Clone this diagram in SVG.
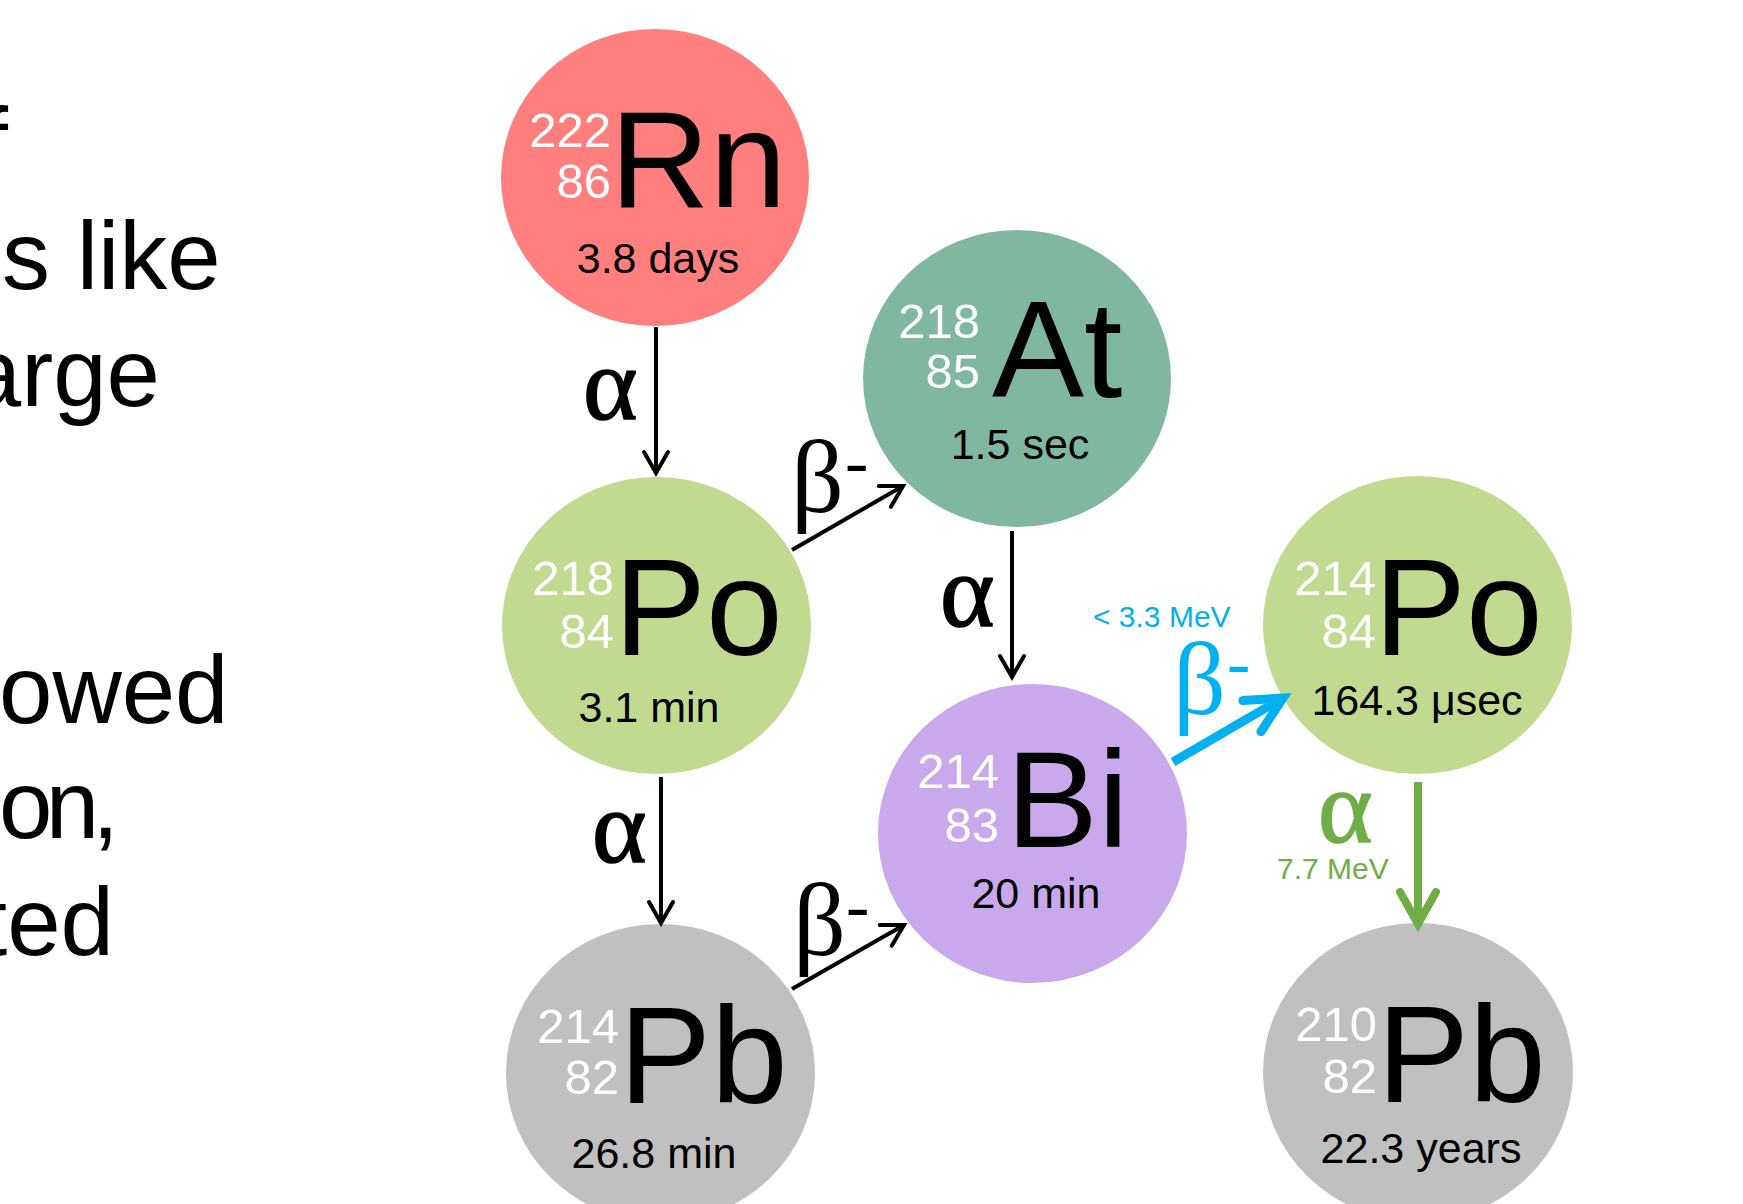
<svg xmlns="http://www.w3.org/2000/svg" width="1743" height="1204" viewBox="0 0 1743 1204">
<style>
.body{font-family:"Liberation Sans",Arial,sans-serif;font-size:96px;fill:#000}
.num{font-family:"Liberation Sans",Arial,sans-serif;font-size:49px;fill:#fff;text-anchor:end}
.sym{font-family:"Liberation Sans",Arial,sans-serif;font-size:138px;fill:#000}
.hl{font-family:"Liberation Sans",Arial,sans-serif;font-size:43px;fill:#000;text-anchor:middle}
.greek{font-family:"Liberation Serif","Times New Roman",serif;font-size:104px}
.alpha{stroke-width:1.6}
.mev{font-family:"Liberation Sans",Arial,sans-serif;font-size:30px}
.blk{stroke:#000;stroke-width:4;fill:none}
.blue{stroke:#00B0F0;stroke-width:9;fill:none}
.grn{stroke:#70AD47;stroke-width:8;fill:none}
</style>
<defs>
<marker id="ahB" markerUnits="userSpaceOnUse" orient="auto" markerWidth="60" markerHeight="60" viewBox="-40 -30 60 60" refX="0" refY="0" overflow="visible">
<path d="M-21,-12 L0,0 L-21,12" fill="none" stroke="#000" stroke-width="4" stroke-linecap="round" stroke-linejoin="miter"/>
</marker>
<marker id="ahBlue" markerUnits="userSpaceOnUse" orient="auto" markerWidth="80" markerHeight="80" viewBox="-60 -40 80 80" refX="0" refY="0" overflow="visible">
<path d="M-36,-18 L0,0 L-36,18" fill="none" stroke="#00B0F0" stroke-width="9" stroke-linecap="round" stroke-linejoin="miter"/>
</marker>
<marker id="ahG" markerUnits="userSpaceOnUse" orient="auto" markerWidth="80" markerHeight="80" viewBox="-60 -40 80 80" refX="0" refY="0" overflow="visible">
<path d="M-32,-18 L0,0 L-32,18" fill="none" stroke="#70AD47" stroke-width="8" stroke-linecap="round" stroke-linejoin="miter"/>
</marker>
</defs>
<rect width="1743" height="1204" fill="#fff"/>

<g id="left-text" class="body">
<text x="8" y="175" text-anchor="end">f</text>
<text x="2" y="289">s like</text>
<text x="160" y="406" text-anchor="end">arge</text>
<text x="-1" y="723">owed</text>
<text x="-1" y="838" textLength="120" lengthAdjust="spacing">on,</text>
<text x="114" y="955" text-anchor="end">ted</text>
</g>

<g id="node-rn222">
<ellipse cx="655" cy="177.5" rx="154" ry="148.5" fill="#FF7F7F"/>
<text class="num" x="611" y="147">222</text>
<text class="num" x="611" y="198">86</text>
<text class="sym" x="610" y="207">Rn</text>
<text class="hl" x="658" y="273">3.8 days</text>
</g>

<g id="node-po218">
<ellipse cx="656.5" cy="625.5" rx="154.5" ry="148.5" fill="#C2DA8F"/>
<text class="num" x="614" y="595">218</text>
<text class="num" x="614" y="648">84</text>
<text class="sym" x="614" y="655">Po</text>
<text class="hl" x="649" y="722">3.1 min</text>
</g>

<g id="node-at218">
<ellipse cx="1017" cy="378.5" rx="154" ry="148.5" fill="#80B7A0"/>
<text class="num" x="980" y="338">218</text>
<text class="num" x="980" y="388">85</text>
<text class="sym" x="992" y="397">At</text>
<text class="hl" x="1020" y="459">1.5 sec</text>
</g>

<g id="node-bi214">
<ellipse cx="1032.5" cy="833.5" rx="154.5" ry="149.5" fill="#C8AAEC"/>
<text class="num" x="999" y="788">214</text>
<text class="num" x="999" y="842">83</text>
<text class="sym" x="1006" y="847">Bi</text>
<text class="hl" x="1036" y="908">20 min</text>
</g>

<g id="node-po214">
<ellipse cx="1417.5" cy="625" rx="154.5" ry="149" fill="#C2DA8F"/>
<text class="num" x="1376" y="595">214</text>
<text class="num" x="1376" y="648">84</text>
<text class="sym" x="1374" y="655">Po</text>
<text class="hl" x="1417" y="715">164.3 μsec</text>
</g>

<g id="node-pb214">
<ellipse cx="660.5" cy="1073" rx="154.5" ry="149" fill="#C0C0C0"/>
<text class="num" x="619" y="1043">214</text>
<text class="num" x="619" y="1094">82</text>
<text class="sym" x="619" y="1103">Pb</text>
<text class="hl" x="654" y="1168">26.8 min</text>
</g>

<g id="node-pb210">
<ellipse cx="1418" cy="1072" rx="155" ry="149" fill="#C0C0C0"/>
<text class="num" x="1377" y="1041">210</text>
<text class="num" x="1377" y="1093">82</text>
<text class="sym" x="1377" y="1102">Pb</text>
<text class="hl" x="1421" y="1163">22.3 years</text>
</g>

<g id="connectors">
<line class="blk" x1="656" y1="327" x2="656" y2="473" marker-end="url(#ahB)"/>
<line class="blk" x1="1012" y1="531" x2="1012" y2="677" marker-end="url(#ahB)"/>
<line class="blk" x1="661" y1="777" x2="661" y2="923" marker-end="url(#ahB)"/>
<line class="blk" x1="792" y1="550" x2="903" y2="486" marker-end="url(#ahB)"/>
<line class="blk" x1="792" y1="989" x2="904" y2="925" marker-end="url(#ahB)"/>
<line class="blue" x1="1173" y1="762" x2="1283" y2="698" marker-end="url(#ahBlue)"/>
<line class="grn" x1="1418" y1="782" x2="1418" y2="924" marker-end="url(#ahG)"/>

<text class="greek alpha" x="583" y="419" fill="#000" stroke="#000">α</text>
<text class="greek alpha" x="940" y="626" fill="#000" stroke="#000">α</text>
<text class="greek alpha" x="592" y="862" fill="#000" stroke="#000">α</text>
<text class="greek alpha" x="1318" y="842" fill="#70AD47" stroke="#70AD47">α</text>
<text class="mev" x="1277" y="879" fill="#70AD47">7.7 MeV</text>

<text class="greek" x="791" y="512" fill="#000">β<tspan x="845" y="485" font-size="70">-</tspan></text>
<text class="greek" x="793" y="955" fill="#000">β<tspan x="846" y="929" font-size="70">-</tspan></text>
<text class="greek" x="1173" y="714" fill="#00B0F0">β<tspan x="1227" y="686" font-size="70">-</tspan></text>
<text class="mev" x="1093" y="627" fill="#00B0F0">&lt; 3.3 MeV</text>
</g>
</svg>
